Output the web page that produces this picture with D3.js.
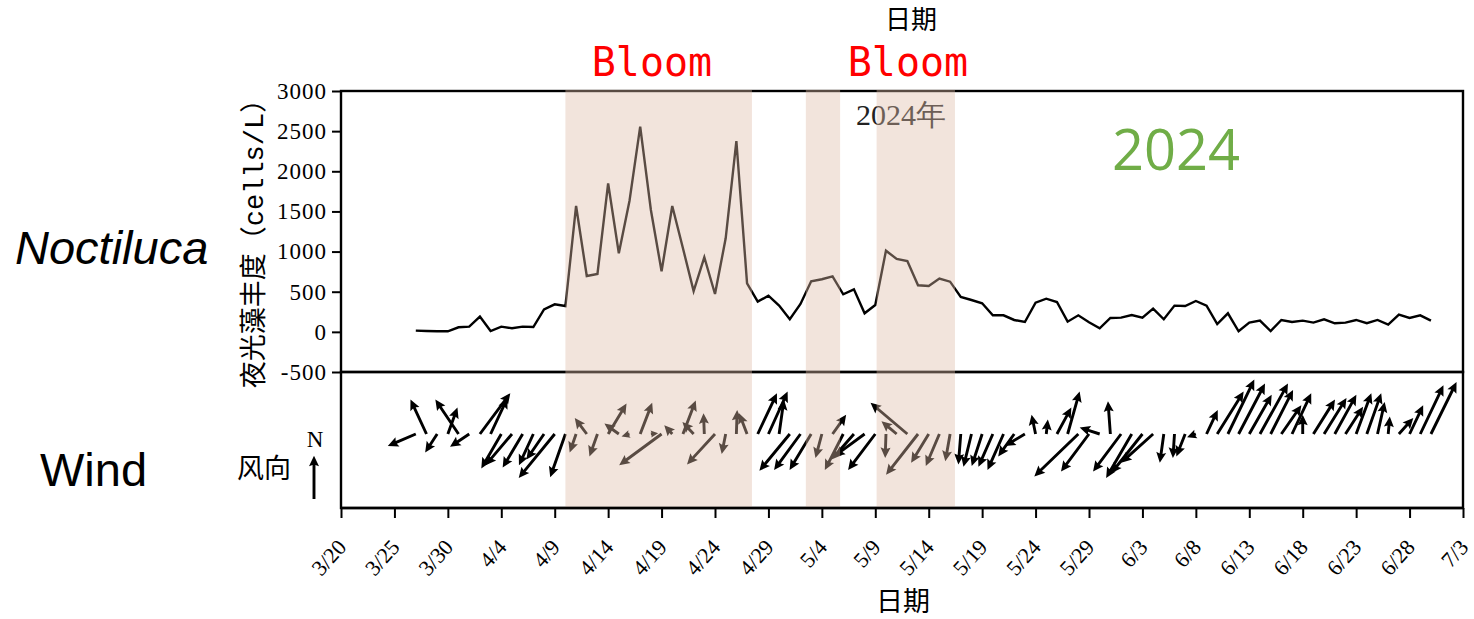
<!DOCTYPE html>
<html>
<head>
<meta charset="utf-8">
<script src="https://cdn.jsdelivr.net/npm/d3@7"></script>
<style>
  body { margin: 0; background: #fff; }
  text { font-kerning: normal; }
</style>
</head>
<body>
<svg id="chart" width="1474" height="619"></svg>
<script>
// ---- data -------------------------------------------------------------
// daily samples starting 2024-03-27
const firstDay = "2024-03-27";

// Noctiluca abundance (cells/L)
const density = [
  15, 10, 7, 7, 57, 65, 190, 10, 65, 45, 65, 60, 280, 343, 322, 1568, 696, 721,
  1850, 979, 1634, 2556, 1518, 755, 1568, 1041, 509, 929, 472, 1165, 2377, 605, 376,
  451, 327, 157, 347, 630, 655, 692, 468, 530, 231, 335, 1011, 908, 883, 580, 571,
  663, 625, 435, 397, 356, 206, 206, 148, 123, 364, 413, 372, 127, 206, 119, 45,
  173, 177, 210, 177, 289, 157, 327, 322, 385, 327, 98, 231, 7, 115, 140, 10, 148,
  123, 140, 115, 157, 107, 115, 148, 107, 148, 90, 214, 173, 206, 140
];

// daily wind components (m/s), eastward and northward
const windU = [
  -3.5, -2.0, -1.5, 1.2, -2.9, -2.4, 3.8, 2.1, -2.5, -3.3, -2.5, -1.8, -2.2, -4.5,
  -1.9, -0.8, -1.5, -1.0, 2.3, -1.8, -1.0, 1.5, 0.9, -5.3, -1.0, 1.6, -1.4, -0.1,
  -3.5, -0.5, 0.1, -1.0, 2.4, 2.4, 0.6, -3.8, -3.3, -2.7, -0.8, 1.7, -2.3, -2.8,
  -3.8, -3.4, -0.1, -1.9, -4.6, -4.0, -2.2, -1.7, -0.6, -0.3, -1.0, -1.3, -1.8,
  -2.0, -2.0, -2.5, -0.5, 0.2, 1.8, 1.5, -5.5, -3.5, -2.5, -0.3, -3.5, -3.2, -3.9,
  -4.0, -0.5, -0.2, -1.1, -1.1, 1.4, 3.3, 3.3, 3.3, 2.8, 3.5, 2.8, 2.5, 2.4, 0.0,
  2.7, 2.8, 2.7, 2.2, 1.9, 1.8, 0.9, 0.2, 1.8, 1.7, 2.9, 3.2
];
const windV = [
  -1.5, 4.3, -2.3, 3.3, 4.3, -1.6, 5.1, 4.5, -4.3, -3.9, -4.2, -3.9, -3.2, -5.5,
  -5.4, -2.3, 2.0, -2.8, 3.8, 1.3, -0.3, 3.9, 0.1, -3.9, 1.1, 4.2, 1.5, 2.6,
  -3.8, -2.5, 3.0, 2.6, 5.1, 5.3, 4.3, -4.6, -4.5, -4.5, -3.0, 2.4, -4.5, -3.2,
  -2.8, -4.5, -3.0, 1.6, 3.9, -5.1, -3.6, -4.0, -3.4, -3.8, -4.1, -4.0, -4.1,
  -4.5, -2.8, -1.5, 2.4, 1.8, 3.3, 5.3, -5.3, -4.7, 0.8, 4.1, -4.7, -5.5, -4.9,
  -3.6, -3.6, -3.0, -2.8, -0.4, 3.0, 5.3, 6.8, 6.3, 4.9, 6.3, 5.5, 3.6, 5.1, 2.4,
  4.3, 4.5, 4.9, 3.4, 5.1, 5.1, 4.0, 2.2, 2.0, 3.6, 6.1, 6.5
];

// bloom periods
const bloomStart = ["2024-04-10T00:00", "2024-05-02T12:00", "2024-05-09T03:00"];
const bloomEnd   = ["2024-04-27T11:00", "2024-05-05T17:00", "2024-05-16T11:00"];

// axis ticks
const xTickLabels = ["3/20", "3/25", "3/30", "4/4", "4/9", "4/14", "4/19", "4/24",
  "4/29", "5/4", "5/9", "5/14", "5/19", "5/24", "5/29", "6/3", "6/8", "6/13",
  "6/18", "6/23", "6/28", "7/3"];
const yTicks = [-500, 0, 500, 1000, 1500, 2000, 2500, 3000];

// ---- layout -----------------------------------------------------------
const svg = d3.select("#chart");
const L = 341, R = 1463, T = 91, MID = 372, B = 508;
const WIND_Y0 = 434;            // tail line of the wind arrows
const serif = "'Liberation Serif', 'DejaVu Serif', serif";
const cjk = "'Noto Sans CJK SC', 'Noto Sans', sans-serif";

const parseDay = d3.timeParse("%Y-%m-%d");
const parseTime = d3.timeParse("%Y-%m-%dT%H:%M");
const parseTick = d3.timeParse("%Y/%m/%d");

const t0 = parseDay(firstDay);
const dates = density.map((_, i) => d3.timeDay.offset(t0, i));
const tickDates = xTickLabels.map(s => parseTick("2024/" + s));

const x = d3.scaleTime()
  .domain([tickDates[0], tickDates[tickDates.length - 1]])
  .range([L, R]);
const y = d3.scaleLinear().domain([-500, 3000]).range([MID, T]);
const speed = d3.scaleLinear().domain([0, 1]).range([0, 8]); // m/s -> px

// ---- upper panel: abundance line --------------------------------------
svg.append("path")
  .datum(density)
  .attr("fill", "none")
  .attr("stroke", "#000")
  .attr("stroke-width", 2.4)
  .attr("stroke-linejoin", "miter")
  .attr("d", d3.line().x((d, i) => x(dates[i])).y(d => y(d)));

// ---- lower panel: wind arrows -----------------------------------------
function arrowPath(len) {
  const w = 2.9;
  let hl = 10.5, ha = 9.2, hw = 5.0;
  if (len < hl) {
    const s = Math.max(len / hl, 0.7);
    hl *= s; ha *= s; hw *= s;
  }
  const Lh = Math.max(len, hl);
  return [[0, -w / 2], [Lh - ha, -w / 2], [Lh - hl, -hw], [Lh, 0],
          [Lh - hl, hw], [Lh - ha, w / 2], [0, w / 2]];
}

const windG = svg.append("g");
windU.forEach((u, i) => {
  const dx = speed(u), dy = -speed(windV[i]);
  const len = Math.hypot(dx, dy);
  const ang = Math.atan2(dy, dx) * 180 / Math.PI;
  windG.append("polygon")
    .attr("points", arrowPath(len).map(p => p.join(",")).join(" "))
    .attr("transform", `translate(${x(dates[i])},${WIND_Y0}) rotate(${ang})`)
    .attr("fill", "#000");
});

// ---- frames -----------------------------------------------------------
svg.append("rect").attr("x", L).attr("y", T).attr("width", R - L).attr("height", MID - T)
  .attr("fill", "none").attr("stroke", "#000").attr("stroke-width", 2.4);
svg.append("rect").attr("x", L).attr("y", MID).attr("width", R - L).attr("height", B - MID)
  .attr("fill", "none").attr("stroke", "#000").attr("stroke-width", 2.4);

// label inside the upper panel (under the shading)
svg.append("text").attr("x", 901).attr("y", 125)
  .attr("text-anchor", "middle")
  .attr("font-family", serif).attr("font-size", 30).attr("fill", "#222")
  .text("2024年");

// ---- bloom shading, laid over both panels ------------------------------
svg.append("g").selectAll("rect")
  .data(bloomStart)
  .join("rect")
  .attr("x", (d) => x(parseTime(d)))
  .attr("width", (d, i) => x(parseTime(bloomEnd[i])) - x(parseTime(d)))
  .attr("y", T - 1.2)
  .attr("height", B - T)
  .attr("fill", "rgb(222,188,168)")
  .attr("fill-opacity", 0.4);

// bottom spine on top of the shading
svg.append("line").attr("x1", L).attr("x2", R).attr("y1", B).attr("y2", B)
  .attr("stroke", "#000").attr("stroke-width", 2.4);

// ---- axes -------------------------------------------------------------
const yAxis = svg.append("g")
  .attr("transform", `translate(${L},0)`)
  .call(d3.axisLeft(y).tickValues(yTicks).tickSize(9).tickPadding(5)
    .tickFormat(d => String(d)));
yAxis.select(".domain").remove();
yAxis.selectAll(".tick line").attr("stroke", "#000").attr("stroke-width", 2);
yAxis.selectAll(".tick text")
  .attr("font-family", serif).attr("font-size", 23).attr("letter-spacing", 1)
  .attr("fill", "#000");

const xAxis = svg.append("g")
  .attr("transform", `translate(0,${B})`)
  .call(d3.axisBottom(x).tickValues(tickDates).tickSize(10)
    .tickFormat((d, i) => xTickLabels[i]));
xAxis.select(".domain").remove();
xAxis.selectAll(".tick line").attr("stroke", "#000").attr("stroke-width", 2);
xAxis.selectAll(".tick text")
  .attr("font-family", serif).attr("font-size", 22).attr("fill", "#000")
  .attr("text-anchor", "end")
  .attr("dy", null)
  .attr("y", 0)
  .attr("transform", "translate(6,40) rotate(-48)");

// ---- titles and annotations -------------------------------------------
svg.append("text").attr("x", 903).attr("y", 611).attr("text-anchor", "middle")
  .attr("font-family", cjk).attr("font-size", 27).text("日期");
svg.append("text").attr("x", 911).attr("y", 29).attr("text-anchor", "middle")
  .attr("font-family", cjk).attr("font-size", 26).text("日期");

const yLabel = svg.append("text")
  .attr("transform", "translate(263,237) rotate(-90)")
  .attr("text-anchor", "middle")
  .attr("font-family", cjk).attr("font-size", 27);
yLabel.append("tspan").text("夜光藻丰度（");
yLabel.append("tspan").attr("font-family", "'Liberation Mono', 'DejaVu Sans Mono', monospace")
  .text("cells/L");
yLabel.append("tspan").text("）");

[["Bloom", 652], ["Bloom", 908]].forEach(([s, cx]) => {
  svg.append("text").attr("x", cx).attr("y", 76).attr("text-anchor", "middle")
    .attr("font-family", "'DejaVu Sans Mono', monospace").attr("font-size", 40)
    .attr("fill", "#ff0000").text(s);
});

svg.append("text").attr("x", 1176).attr("y", 170).attr("text-anchor", "middle")
  .attr("font-family", "'Open Sans', sans-serif").attr("font-size", 56)
  .attr("fill", "#70ad47").text("2024");

svg.append("text").attr("x", 15).attr("y", 264)
  .attr("font-family", "'Liberation Sans', Arial, sans-serif").attr("font-style", "italic")
  .attr("font-size", 47).attr("fill", "#000").text("Noctiluca");
svg.append("text").attr("x", 40).attr("y", 486)
  .attr("font-family", "'Liberation Sans', Arial, sans-serif")
  .attr("font-size", 47).attr("fill", "#000").text("Wind");

// wind direction key
svg.append("text").attr("x", 264).attr("y", 478).attr("text-anchor", "middle")
  .attr("font-family", cjk).attr("font-size", 27).text("风向");
svg.append("text").attr("x", 315).attr("y", 447).attr("text-anchor", "middle")
  .attr("font-family", serif).attr("font-size", 23).text("N");
svg.append("polygon")
  .attr("points", arrowPath(speed(5.4)).map(p => p.join(",")).join(" "))
  .attr("transform", `translate(314,499) rotate(-90)`)
  .attr("fill", "#000");
</script>
</body>
</html>
